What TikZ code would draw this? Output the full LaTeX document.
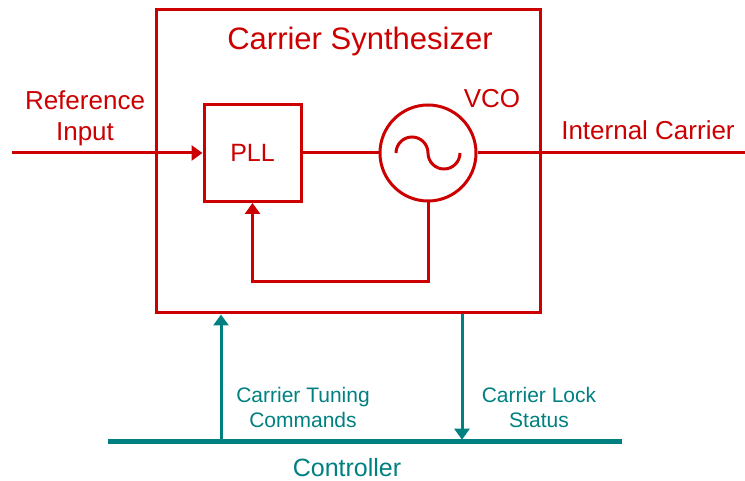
\documentclass[tikz,border=0pt]{standalone}
\usepackage{fontspec}
\setmainfont{Liberation Sans}
\usepackage{xcolor}
\usepackage{tikz}
\usetikzlibrary{arrows.meta,calc,positioning}
\definecolor{synthred}{HTML}{CC0000}
\definecolor{ctrlteal}{HTML}{008080}

\begin{document}
\begin{tikzpicture}[x=1pt,y=1pt,
  blk/.style={draw=synthred,line width=3pt,inner sep=0pt},
  sig/.style={synthred,line width=3pt},
  ctl/.style={ctrlteal,line width=3pt},
  tip/.style={-{Triangle[length=11pt,width=15pt]}},
  redtxt/.style={text=synthred,inner sep=0pt,font=\fontsize{26}{31}\selectfont},
  tealtxt/.style={text=ctrlteal,inner sep=0pt,font=\fontsize{21}{25}\selectfont}]
  \useasboundingbox (0,0) rectangle (745,481);
  \node[blk,minimum width=384pt,minimum height=303pt] (synth) at (348,319.5) {};
  \node[blk,minimum size=97pt,text=synthred,font=\fontsize{25}{30}\selectfont] (pll) at (252.5,328) {PLL};
  \node[blk,circle,minimum size=96pt] (vco) at (428,328) {};
  \draw[sig] ($(vco.center)+(-32,0)$) arc[start angle=180,end angle=0,radius=16]
    arc[start angle=180,end angle=360,radius=16];
  \coordinate (refin) at (12,328);
  \coordinate (carout) at (745,328);
  \draw[sig,tip] (refin) -- (pll.west);
  \draw[sig] (pll.east) -- (vco.west);
  \draw[sig] (vco.east) -- (carout);
  \draw[sig,tip] (vco.south) -- ++(0,-79.5) -| (pll.south);
  \node[redtxt,anchor=base,font=\fontsize{31}{36}\selectfont] (title) at (360,431) {Carrier Synthesizer};
  \node[redtxt,align=center] (reflbl) at (85,363) {Reference\\Input};
  \node[redtxt,anchor=base] (vcolbl) at (492,373) {VCO};
  \node[redtxt,anchor=base] (carlbl) at (648,341) {Internal Carrier};
  \coordinate (busL) at (108,39.3);
  \coordinate (busR) at (622,39.3);
  \draw[ctl,line width=4.5pt] (busL) -- (busR);
  \coordinate (tuneS) at (221,39.3);
  \coordinate (lockS) at (462,39.3);
  \draw[ctl,tip] (tuneS) -- (tuneS |- synth.south);
  \draw[ctl,tip,shorten >=2pt] (lockS |- synth.south) -- (lockS);
  \node[tealtxt,align=center] (tunelbl) at (303,73.5) {Carrier Tuning\\Commands};
  \node[tealtxt,align=center] (locklbl) at (539,73.5) {Carrier Lock\\Status};
  \node[tealtxt,anchor=base,font=\fontsize{25}{30}\selectfont] (ctrllbl) at (347,4) {Controller};
\end{tikzpicture}
\end{document}
